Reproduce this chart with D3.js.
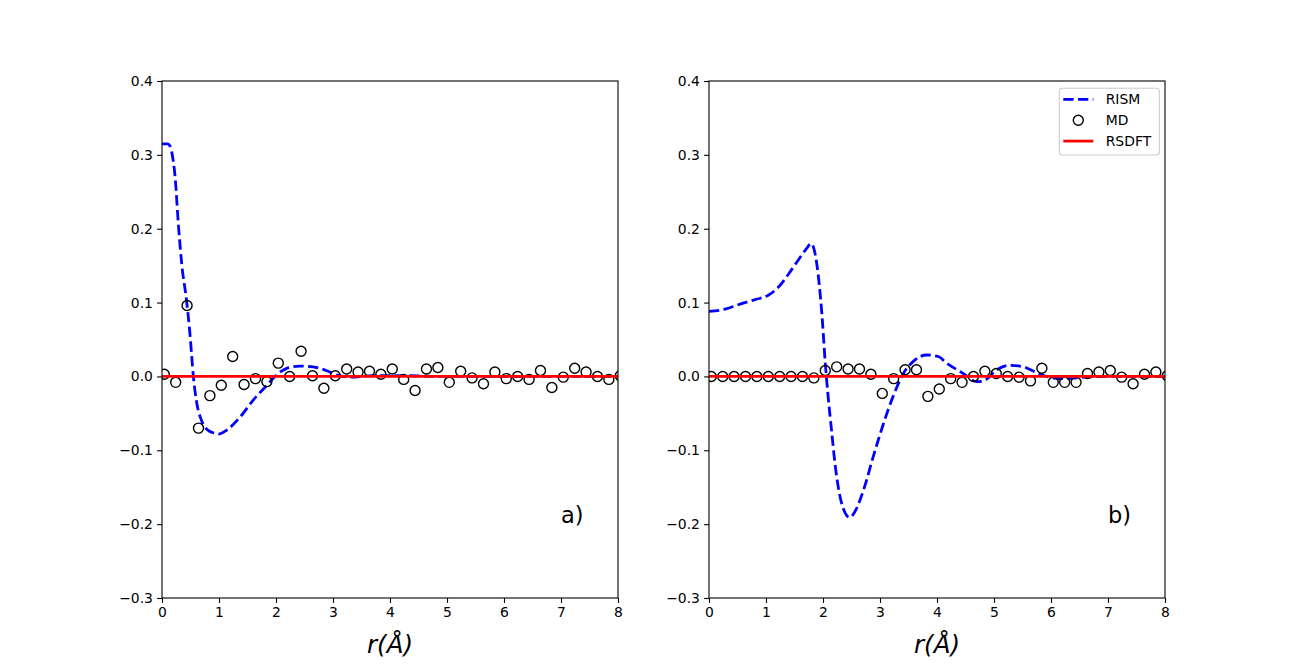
<!DOCTYPE html>
<html>
<head>
<meta charset="utf-8">
<script src="https://cdn.jsdelivr.net/npm/d3@7"></script>
<style>
  body { margin: 0; background: #fff; }
  svg text { font-family: "DejaVu Sans", sans-serif; }
</style>
</head>
<body>
<div id="chart"></div>
<script>
'use strict';

// MD sample positions (shared by both panels)
var mdR = [0.04, 0.24, 0.44, 0.64, 0.84, 1.04, 1.24, 1.44, 1.64, 1.84,
  2.04, 2.24, 2.44, 2.64, 2.84, 3.04, 3.24, 3.44, 3.64, 3.84,
  4.04, 4.24, 4.44, 4.64, 4.84, 5.04, 5.24, 5.44, 5.64, 5.84,
  6.04, 6.24, 6.44, 6.64, 6.84, 7.04, 7.24, 7.44, 7.64, 7.84, 8.04];

var mdA = [0.003, -0.008, 0.096, -0.070, -0.026, -0.012, 0.027, -0.011, -0.003, -0.007,
  0.018, 0.000, 0.034, 0.001, -0.016, 0.001, 0.010, 0.006, 0.007, 0.003,
  0.010, -0.004, -0.019, 0.010, 0.012, -0.008, 0.007, -0.002, -0.010, 0.006,
  -0.003, 0.000, -0.004, 0.008, -0.015, -0.001, 0.011, 0.006, 0.000, -0.004, 0.001];

var mdB = [0.000, 0.000, 0.000, 0.000, 0.000, 0.000, 0.000, 0.000, 0.000, -0.002,
  0.008, 0.013, 0.010, 0.010, 0.003, -0.023, -0.003, 0.009, 0.009, -0.027,
  -0.017, -0.003, -0.008, 0.000, 0.007, 0.004, 0.000, -0.001, -0.006, 0.011,
  -0.008, -0.008, -0.008, 0.004, 0.006, 0.008, -0.001, -0.010, 0.003, 0.006, 0.001];

// RISM curves
var rismRA = [0, 0.10, 0.14, 0.17, 0.23, 0.29, 0.345, 0.43, 0.49, 0.55, 0.61, 0.69,
  0.81, 0.93, 0.99, 1.13, 1.37, 1.60, 1.84, 2.01, 2.19, 2.42, 2.65, 2.88, 3.06,
  3.30, 3.70, 4.20, 5.0, 6.0, 7.0, 8.0];
var rismA = [0.315, 0.315, 0.312, 0.304, 0.270, 0.203, 0.153, 0.103, 0.058, 0.000, -0.036, -0.059,
  -0.073, -0.077, -0.078, -0.073, -0.055, -0.032, -0.012, 0.002, 0.011, 0.014, 0.013, 0.008, 0.002,
  -0.001, 0.001, 0.001, 0.000, 0.000, 0.000, 0.000];

var rismRB = [0, 0.28, 0.51, 0.81, 1.04, 1.22, 1.39, 1.57, 1.71, 1.79, 1.89, 1.98,
  2.04, 2.09, 2.15, 2.21, 2.30, 2.39, 2.47, 2.56, 2.71, 2.88, 3.06, 3.23, 3.41,
  3.58, 3.82, 4.02, 4.17, 4.46, 4.70, 4.84, 5.05, 5.28, 5.51, 5.75, 5.92, 6.22,
  6.60, 7.0, 8.0];
var rismB = [0.088, 0.091, 0.097, 0.104, 0.110, 0.121, 0.138, 0.158, 0.173, 0.180, 0.153, 0.085,
  0.018, -0.027, -0.073, -0.118, -0.163, -0.185, -0.191, -0.183, -0.154, -0.109, -0.064, -0.027, 0.004,
  0.020, 0.029, 0.027, 0.018, 0.004, -0.007, -0.005, 0.009, 0.015, 0.013, 0.005, 0.000, -0.003,
  -0.001, 0.000, 0.000];

// RSDFT is flat zero over the whole range
var rsdftR = [0, 8];
var rsdftG = [0, 0];

var xTicks = [0, 1, 2, 3, 4, 5, 6, 7, 8];
var yTicks = [-0.3, -0.2, -0.1, 0.0, 0.1, 0.2, 0.3, 0.4];
var legendLabels = [' RISM', ' MD', ' RSDFT'];

var figW = 1295, figH = 672;
var axTop = 81, axBottom = 598, panelW = 456;
var panels = [
  {left: 162, md: mdA, rismR: rismRA, rism: rismA, tag: 'a)', legend: false},
  {left: 709, md: mdB, rismR: rismRB, rism: rismB, tag: 'b)', legend: true}
];

var svg = d3.select('#chart').append('svg')
  .attr('width', figW)
  .attr('height', figH);

var defs = svg.append('defs');

panels.forEach(function (p, i) {
  var h = axBottom - axTop;
  var x = d3.scaleLinear().domain([0, 8]).range([0, panelW]);
  var y = d3.scaleLinear().domain([-0.3, 0.4]).range([h, 0]);

  var g = svg.append('g')
    .attr('transform', 'translate(' + p.left + ',' + axTop + ')');

  defs.append('clipPath')
    .attr('id', 'clip-' + i)
    .append('rect')
    .attr('width', panelW)
    .attr('height', h);

  var plot = g.append('g').attr('clip-path', 'url(#clip-' + i + ')');

  var line = d3.line()
    .x(function (d) { return x(d[0]); })
    .y(function (d) { return y(d[1]); });

  // RISM dashed
  plot.append('path')
    .datum(d3.zip(p.rismR, p.rism))
    .attr('d', line.curve(d3.curveMonotoneX))
    .attr('fill', 'none')
    .attr('stroke', '#0000ff')
    .attr('stroke-width', 2.8)
    .attr('stroke-dasharray', '10.3,4.4');

  // MD open circles
  plot.selectAll('circle.md')
    .data(d3.zip(mdR, p.md))
    .enter().append('circle')
    .attr('class', 'md')
    .attr('cx', function (d) { return x(d[0]); })
    .attr('cy', function (d) { return y(d[1]); })
    .attr('r', 5)
    .attr('fill', 'none')
    .attr('stroke', '#000')
    .attr('stroke-width', 1.4);

  // RSDFT
  plot.append('path')
    .datum(d3.zip(rsdftR, rsdftG))
    .attr('d', line.curve(d3.curveLinear))
    .attr('fill', 'none')
    .attr('stroke', '#ff0000')
    .attr('stroke-width', 2.8);

  // axes
  var xAxis = d3.axisBottom(x).tickValues(xTicks).tickSize(4.9).tickPadding(4.2)
    .tickFormat(d3.format('d'));
  var yAxis = d3.axisLeft(y).tickValues(yTicks).tickSize(4.9).tickPadding(4.2)
    .tickFormat(function (d) { return d3.format('.1f')(d).replace('-', '\u2212'); });

  var gx = g.append('g').attr('transform', 'translate(0,' + h + ')').call(xAxis);
  var gy = g.append('g').call(yAxis);
  [gx, gy].forEach(function (a) {
    a.select('.domain').remove();
    a.selectAll('line').attr('stroke', '#000').attr('stroke-width', 1.1);
    a.selectAll('text')
      .attr('fill', '#000')
      .style('font-size', '13.9px')
      .style('font-family', '"DejaVu Sans", sans-serif');
  });

  g.append('rect')
    .attr('width', panelW)
    .attr('height', h)
    .attr('fill', 'none')
    .attr('stroke', '#000')
    .attr('stroke-width', 1.1);

  g.append('text')
    .attr('x', panelW / 2)
    .attr('y', h + 55)
    .attr('text-anchor', 'middle')
    .style('font-size', '24.5px')
    .style('font-style', 'italic')
    .text('r(\u00c5)');

  g.append('text')
    .attr('x', x(7.0))
    .attr('y', y(-0.198))
    .style('font-size', '22.5px')
    .text(p.tag);

  if (p.legend) {
    var lg = g.append('g').attr('transform', 'translate(' + (panelW - 105.7) + ',7.3)');
    lg.append('rect')
      .attr('width', 100)
      .attr('height', 66.7)
      .attr('rx', 3)
      .attr('fill', '#fff')
      .attr('fill-opacity', 0.8)
      .attr('stroke', '#cccccc')
      .attr('stroke-width', 1.1);

    var rows = lg.selectAll('g.row')
      .data(legendLabels)
      .enter().append('g')
      .attr('class', 'row')
      .attr('transform', function (d, k) { return 'translate(0,' + (11 + k * 20.9) + ')'; });

    rows.each(function (d, k) {
      var r = d3.select(this);
      if (k === 0) {
        r.append('line')
          .attr('x1', 4).attr('x2', 34)
          .attr('stroke', '#0000ff').attr('stroke-width', 2.8)
          .attr('stroke-dasharray', '10.3,4.4');
      } else if (k === 1) {
        r.append('circle')
          .attr('cx', 19).attr('r', 5)
          .attr('fill', 'none').attr('stroke', '#000').attr('stroke-width', 1.4);
      } else {
        r.append('line')
          .attr('x1', 4).attr('x2', 34)
          .attr('stroke', '#ff0000').attr('stroke-width', 2.8);
      }
      r.append('text')
        .attr('x', 42)
        .attr('y', 5)
        .style('font-size', '13.9px')
        .style('white-space', 'pre')
        .text(d);
    });
  }
});
</script>
</body>
</html>
